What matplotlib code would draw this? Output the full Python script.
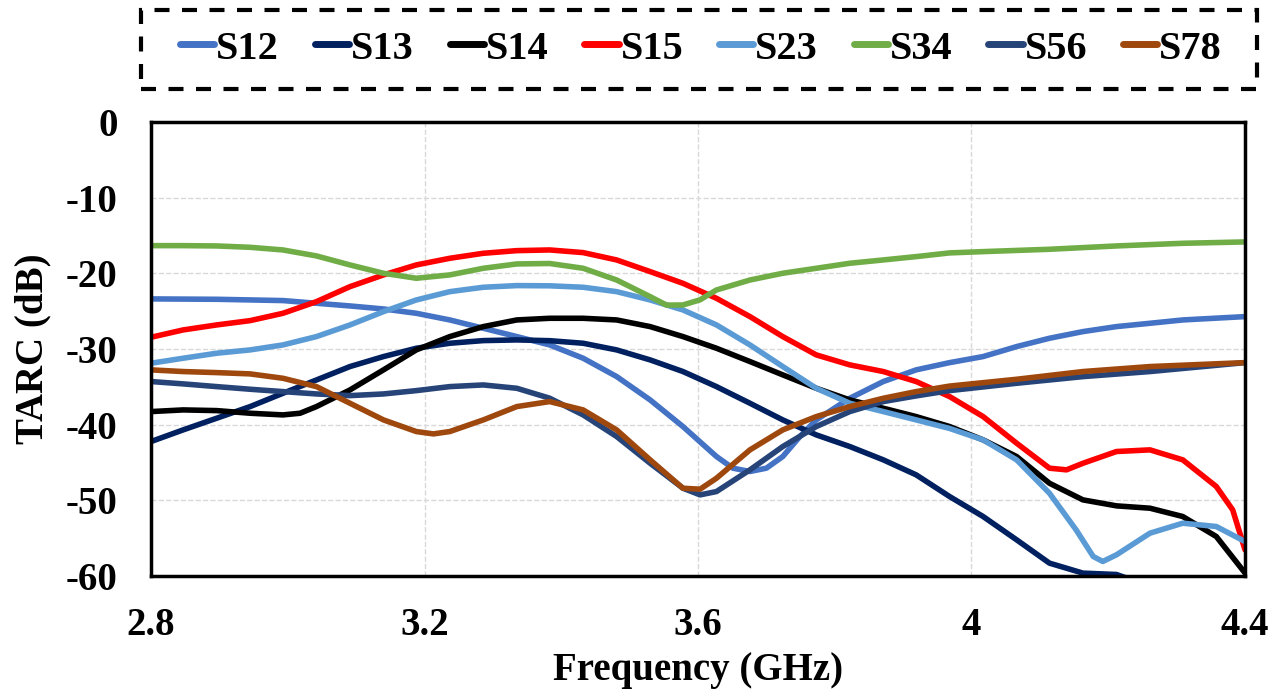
import numpy as np
import matplotlib
matplotlib.use('Agg')
from matplotlib import pyplot as plt
from matplotlib.patches import Rectangle

plt.rcParams['font.family'] = ['Liberation Serif', 'DejaVu Serif']
plt.rcParams['font.weight'] = 'bold'
plt.rcParams['axes.unicode_minus'] = False

# (freq in GHz, TARC in dB)
f_s12 = [2.8, 2.896, 2.993, 3.091, 3.140, 3.188, 3.237, 3.286, 3.335, 3.383, 3.432, 3.481, 3.530, 3.578, 3.627, 3.651, 3.676, 3.700, 3.724, 3.749, 3.773, 3.822, 3.871, 3.919, 3.968, 4.017, 4.066, 4.114, 4.163, 4.212, 4.261, 4.309, 4.4]
v_s12 = [-23.38, -23.43, -23.6, -24.31, -24.71, -25.28, -26.16, -27.26, -28.36, -29.46, -31.22, -33.64, -36.73, -40.25, -44.21, -45.75, -46.19, -45.75, -44.21, -41.57, -39.37, -36.51, -34.3, -32.76, -31.8, -31.0, -29.68, -28.58, -27.7, -27.04, -26.6, -26.16, -25.72]

f_s13 = [2.8, 2.847, 2.896, 2.945, 2.993, 3.042, 3.091, 3.140, 3.188, 3.237, 3.286, 3.335, 3.383, 3.432, 3.481, 3.530, 3.578, 3.627, 3.676, 3.724, 3.773, 3.822, 3.871, 3.919, 3.968, 4.017, 4.066, 4.114, 4.163, 4.212, 4.25]
v_s13 = [-42.23, -40.69, -39.15, -37.61, -35.85, -34.09, -32.32, -31.0, -29.9, -29.24, -28.89, -28.8, -28.9, -29.24, -30.12, -31.44, -32.98, -34.97, -37.17, -39.37, -41.35, -42.89, -44.65, -46.63, -49.5, -52.14, -55.22, -58.3, -59.62, -59.8, -61.0]

f_s14 = [2.8, 2.847, 2.896, 2.945, 2.993, 3.018, 3.042, 3.091, 3.140, 3.188, 3.237, 3.286, 3.335, 3.383, 3.432, 3.481, 3.530, 3.578, 3.627, 3.676, 3.724, 3.773, 3.822, 3.871, 3.919, 3.968, 4.017, 4.066, 4.114, 4.163, 4.212, 4.261, 4.309, 4.358, 4.4]
v_s14 = [-38.27, -38.05, -38.14, -38.49, -38.71, -38.49, -37.61, -35.41, -32.76, -30.12, -28.36, -27.04, -26.16, -25.94, -25.94, -26.16, -27.04, -28.36, -29.9, -31.66, -33.42, -35.19, -36.73, -37.83, -38.93, -40.25, -42.01, -44.21, -47.74, -49.94, -50.73, -51.04, -52.14, -54.78, -59.6]

f_s15 = [2.8, 2.847, 2.896, 2.945, 2.993, 3.042, 3.091, 3.140, 3.188, 3.237, 3.286, 3.335, 3.383, 3.432, 3.481, 3.530, 3.578, 3.627, 3.676, 3.724, 3.773, 3.822, 3.871, 3.919, 3.968, 4.017, 4.066, 4.114, 4.139, 4.163, 4.212, 4.261, 4.309, 4.358, 4.382, 4.4]
v_s15 = [-28.45, -27.48, -26.82, -26.25, -25.28, -23.74, -21.76, -20.21, -18.89, -18.01, -17.35, -17.0, -16.91, -17.26, -18.23, -19.77, -21.32, -23.3, -25.72, -28.36, -30.78, -32.1, -32.98, -34.3, -36.29, -38.93, -42.45, -45.75, -45.97, -45.1, -43.55, -43.33, -44.65, -48.17, -51.26, -56.54]

f_s23 = [2.8, 2.847, 2.896, 2.945, 2.993, 3.042, 3.091, 3.140, 3.188, 3.237, 3.286, 3.335, 3.383, 3.432, 3.481, 3.530, 3.578, 3.627, 3.676, 3.724, 3.773, 3.822, 3.871, 3.919, 3.968, 4.017, 4.066, 4.114, 4.153, 4.178, 4.192, 4.212, 4.261, 4.309, 4.358, 4.4]
v_s23 = [-31.88, -31.22, -30.56, -30.12, -29.46, -28.36, -26.82, -25.06, -23.52, -22.42, -21.84, -21.62, -21.65, -21.84, -22.42, -23.52, -24.84, -26.82, -29.46, -32.32, -35.19, -37.17, -38.27, -39.37, -40.5, -42.01, -44.65, -49.06, -53.9, -57.42, -58.08, -57.2, -54.34, -53.02, -53.46, -55.44]

f_s34 = [2.8, 2.847, 2.896, 2.945, 2.993, 3.042, 3.091, 3.140, 3.188, 3.237, 3.286, 3.335, 3.383, 3.432, 3.481, 3.530, 3.554, 3.578, 3.603, 3.627, 3.676, 3.724, 3.773, 3.822, 3.871, 3.919, 3.968, 4.017, 4.114, 4.212, 4.309, 4.4]
v_s34 = [-16.34, -16.34, -16.38, -16.56, -16.91, -17.70, -18.89, -19.99, -20.65, -20.21, -19.33, -18.76, -18.7, -19.33, -20.88, -23.08, -24.2, -24.18, -23.5, -22.2, -20.88, -19.99, -19.33, -18.67, -18.23, -17.79, -17.3, -17.13, -16.82, -16.38, -16.03, -15.85]

f_s56 = [2.8, 2.847, 2.896, 2.945, 2.993, 3.042, 3.091, 3.140, 3.188, 3.237, 3.286, 3.335, 3.383, 3.432, 3.481, 3.530, 3.578, 3.603, 3.627, 3.676, 3.724, 3.773, 3.822, 3.871, 3.919, 3.968, 4.066, 4.163, 4.261, 4.4]
v_s56 = [-34.3, -34.61, -34.97, -35.32, -35.63, -35.94, -36.16, -35.94, -35.5, -34.97, -34.75, -35.19, -36.5, -38.71, -41.57, -45.1, -48.4, -49.28, -48.84, -45.97, -42.89, -40.25, -38.27, -36.95, -36.2, -35.5, -34.53, -33.65, -32.98, -31.8]

f_s78 = [2.8, 2.847, 2.896, 2.945, 2.993, 3.042, 3.091, 3.140, 3.188, 3.213, 3.237, 3.286, 3.335, 3.383, 3.432, 3.481, 3.530, 3.578, 3.603, 3.627, 3.676, 3.724, 3.773, 3.822, 3.871, 3.919, 3.968, 4.066, 4.163, 4.261, 4.4]
v_s78 = [-32.76, -32.98, -33.12, -33.29, -33.87, -34.97, -37.17, -39.37, -40.91, -41.22, -40.91, -39.37, -37.61, -36.95, -38.05, -40.69, -44.65, -48.4, -48.53, -47.08, -43.33, -40.69, -38.93, -37.61, -36.51, -35.63, -34.9, -34.0, -32.98, -32.32, -31.8]

series = [
    ('S12', f_s12, v_s12, '#4472C4'),
    ('S13', f_s13, v_s13, '#002060'),
    ('S14', f_s14, v_s14, '#000000'),
    ('S15', f_s15, v_s15, '#FF0000'),
    ('S23', f_s23, v_s23, '#5B9BD5'),
    ('S34', f_s34, v_s34, '#70AD47'),
    ('S56', f_s56, v_s56, '#264478'),
    ('S78', f_s78, v_s78, '#9E480E'),
]

W, H = 1284, 698
fig = plt.figure(figsize=(W/100, H/100), dpi=100)
ax = fig.add_axes([151/W, 1 - 576/H, (1245-151)/W, (576-122)/H])

for name, f, v, c in series:
    ax.plot(f, v, color=c, lw=4, label=name, solid_capstyle='round', solid_joinstyle='round')

ax.set_xlim(2.8, 4.4)
ax.set_ylim(-60, 0)
ax.set_xticks([2.8, 3.2, 3.6, 4.0, 4.4])
ax.set_xticklabels(['2.8', '3.2', '3.6', '4', '4.4'])
ax.set_yticks(np.arange(-60, 1, 10))
ax.tick_params(length=0, labelsize=28)
ax.tick_params(axis='y', pad=24)
ax.tick_params(axis='x', pad=22)
ax.grid(True, ls='--', color='#D9D9D9', lw=1)
for s in ax.spines.values():
    s.set_linewidth(2.5)
    s.set_color('black')

ax.set_xlabel('Frequency (GHz)', fontsize=28, fontweight='bold', labelpad=6)
ax.set_ylabel('TARC (dB)', fontsize=28, fontweight='bold', labelpad=10)

# dashed box round the legend
fig.patches.append(Rectangle((141/W, 1 - 89/H), (1257-141)/W, 79/H, transform=fig.transFigure,
                             fill=False, edgecolor='black', lw=3, ls=(0, (3.6, 3.0))))

leg = fig.legend(loc='center', ncol=8, mode='expand',
                 bbox_to_anchor=(180/W, 1 - 71/H, (1222-180)/W, 44/H),
                 borderaxespad=0, fontsize=29, handlelength=0.85, handletextpad=0.05,
                 columnspacing=1.0, frameon=False, borderpad=0)
for t in leg.get_texts():
    t.set_fontweight('bold')
for l in leg.get_lines():
    l.set_linewidth(5)

fig.savefig('out.png', dpi=100)
